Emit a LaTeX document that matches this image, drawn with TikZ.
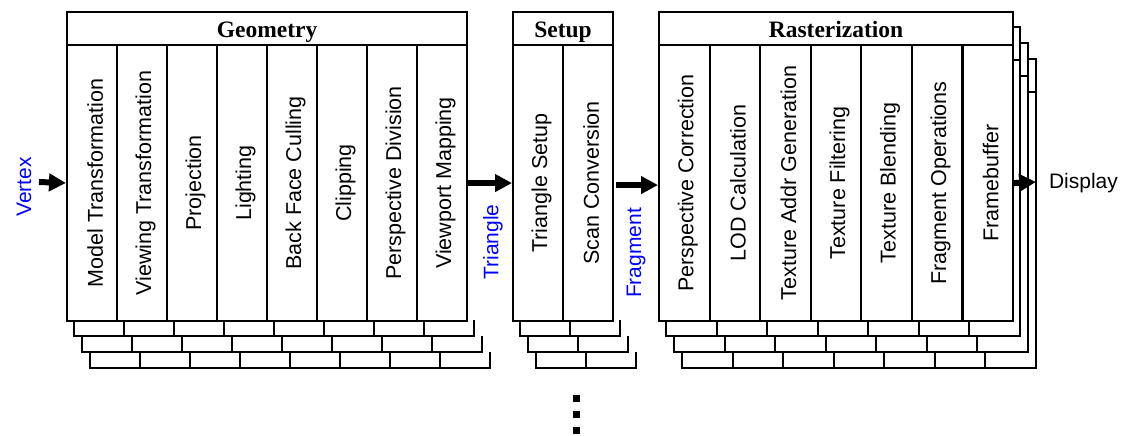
\documentclass[tikz,border=0pt]{standalone}
\usepackage{fontspec}
\setmainfont{Liberation Serif}
\setsansfont{Liberation Sans}
\usetikzlibrary{arrows.meta}
% vertical label with a fixed-size line box, so every label sits on the same baseline
\newcommand{\uplabel}[1]{\rotatebox{90}{\rule[-1pt]{0pt}{23.4pt}#1}}
\begin{document}
\begin{tikzpicture}[x=1pt,y=-1pt,line width=2.1pt,
  hdr/.style={draw,fill=white,inner sep=0pt,anchor=north west,minimum height=33pt,
    text height=20pt,text depth=1.6pt,
    font=\bfseries\fontsize{23.5}{26}\selectfont},
  cell/.style={draw,fill=white,inner sep=0pt,anchor=north west,minimum height=276pt,
    font=\sffamily\fontsize{21.5}{24}\selectfont},
  flow/.style={line width=6pt,-{Triangle[length=17pt,width=17pt]}},
  dtype/.style={font=\sffamily\fontsize{21}{24}\selectfont,text=blue,inner sep=0pt},
  dotmark/.style={fill=black}]
\useasboundingbox (0,0) rectangle (1124,436);

% stacked copies of the rasterization stage (back to front)
\foreach \k in {3,2,1} {
  \draw[fill=white] (658+8*\k,11+16*\k) rectangle (1012+8*\k,320+16*\k);
  \draw (658+8*\k,44+16*\k) -- (1012+8*\k,44+16*\k);
  \foreach \i in {1,...,6}
    \draw (658+50.57*\i+8*\k,44+16*\k) -- ++(0,276);
}

% stacked rows under the geometry stage
\foreach \k in {1,2,3} {
  \draw (66+8*\k,304+16*\k) -- (66+8*\k,320+16*\k) -- (466+8*\k,320+16*\k) -- (466+8*\k,304+16*\k);
  \foreach \i in {1,...,7}
    \draw (66+50*\i+8*\k,304+16*\k) -- ++(0,16);
}

% stacked rows under the setup stage
\foreach \k in {1,2,3} {
  \draw (512+8*\k,304+16*\k) -- (512+8*\k,320+16*\k) -- (612+8*\k,320+16*\k) -- (612+8*\k,304+16*\k);
  \draw (562+8*\k,304+16*\k) -- ++(0,16);
}

% geometry stage
\node[hdr,minimum width=400pt] (geo) at (66,11) {Geometry};
\foreach \t [count=\n] in {Model Transformation,Viewing Transformation,Projection,Lighting,
    Back Face Culling,Clipping,Perspective Division,Viewport Mapping}
  \node[cell,minimum width=50pt] (g\n) at (16+50*\n,44) {\uplabel{\t}};

% setup stage
\node[hdr,minimum width=100pt] (setup) at (512,11) {Setup};
\node[cell,minimum width=50pt] (s1) at (512,44) {\uplabel{Triangle Setup}};
\node[cell,minimum width=50pt] (s2) at (562,44) {\uplabel{Scan Conversion}};

% rasterization stage
\node[hdr,minimum width=354pt] (rast) at (658,11) {Rasterization};
\foreach \t [count=\n] in {Perspective Correction,LOD Calculation,Texture Addr Generation,
    Texture Filtering,Texture Blending,Fragment Operations,Framebuffer}
  \node[cell,minimum width=50.57pt] (r\n) at (607.43+50.57*\n,44) {\uplabel{\t}};

% data flow
\coordinate (vin) at (39,182);
\coordinate (dout) at (1036,182);
\draw[flow] (vin) -- (g1.west);
\draw[flow] (g8.east) -- (s1.west);
\draw[flow] ([xshift=2pt,yshift=-2pt]s2.east) -- ([yshift=-2pt]r1.west);
\draw[flow] (r7.east) -- (dout);

\node[dtype] (lv) at (24,187) {\rotatebox{90}{Vertex}};
\node[dtype] (lt) at (493,242) {\rotatebox{90}{Triangle}};
\node[dtype] (lf) at (636,253) {\rotatebox{90}{Fragment}};
\node[font=\sffamily\fontsize{21}{24}\selectfont,anchor=west,inner sep=0pt] (disp) at (1048,183) {Display};

% continuation dots
\fill[dotmark] (573,395) rectangle ++(6.5,6.5);
\fill[dotmark] (573,411) rectangle ++(6.5,6.5);
\fill[dotmark] (573,427) rectangle ++(6.5,6.5);
\end{tikzpicture}
\end{document}
